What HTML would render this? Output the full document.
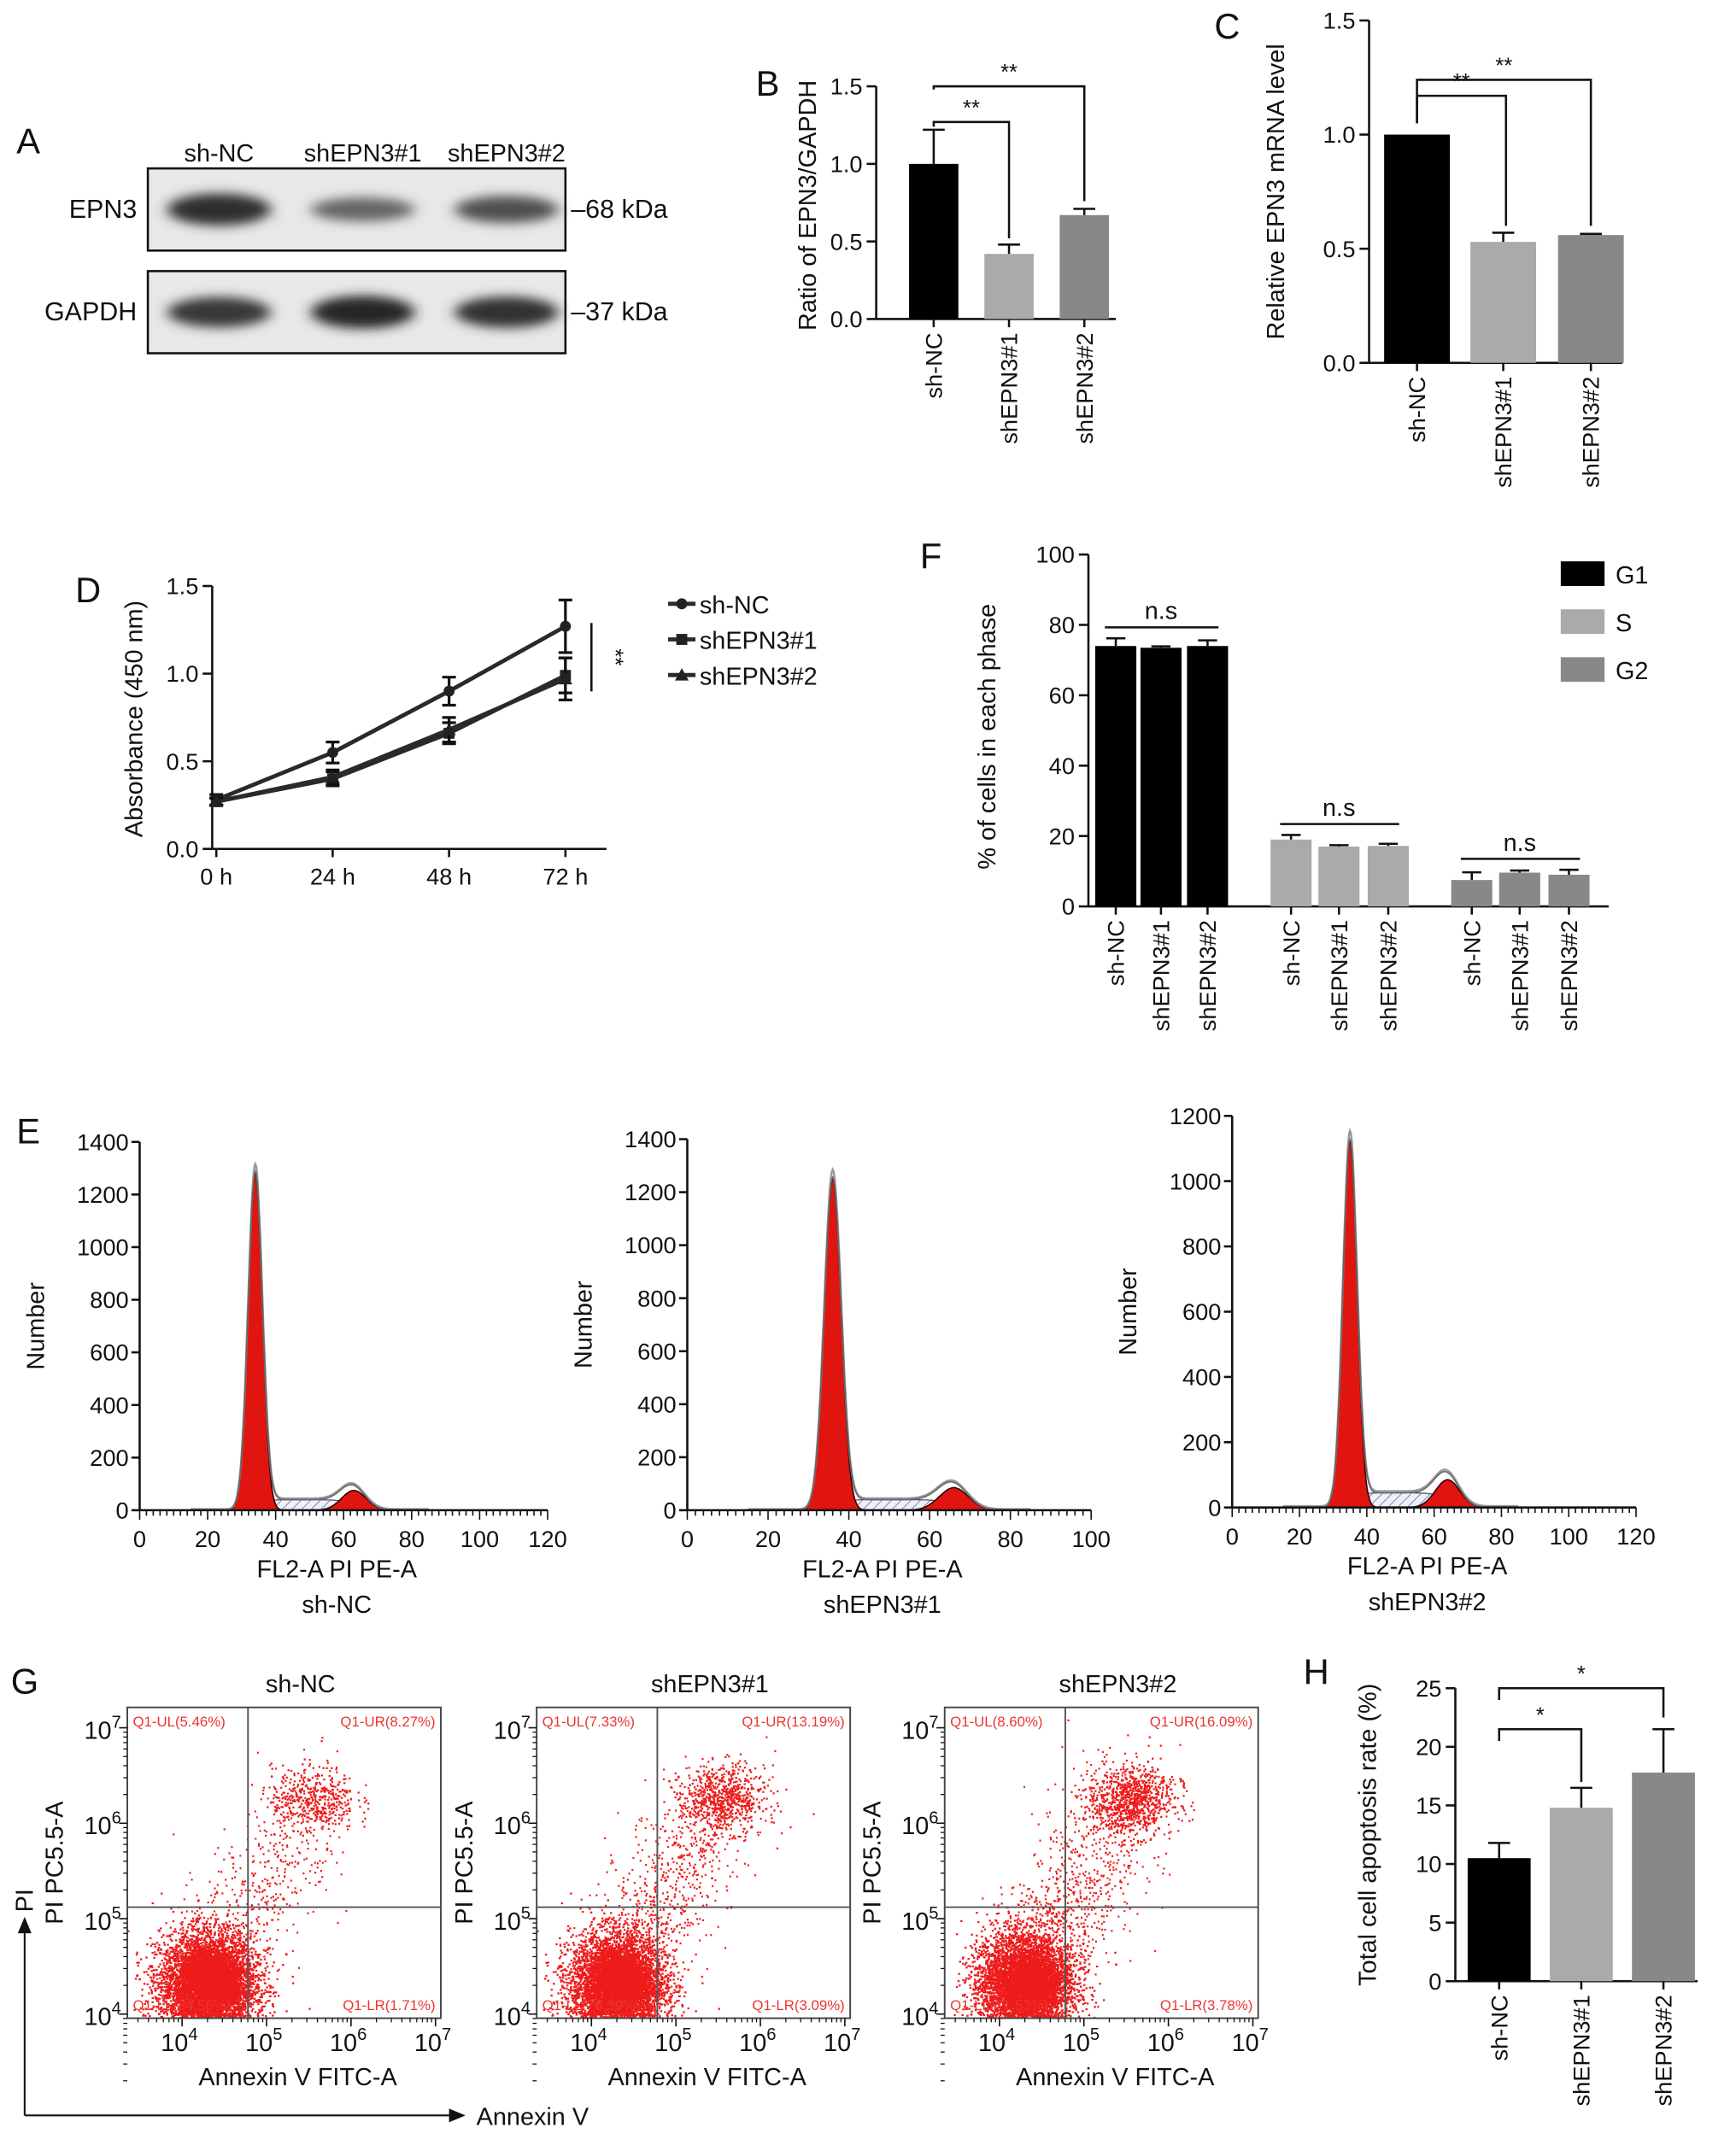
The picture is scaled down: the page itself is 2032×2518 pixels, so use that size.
<!DOCTYPE html>
<html><head><meta charset="utf-8">
<style>
html,body{margin:0;padding:0;background:#fff;}
svg{display:block;font-family:"Liberation Sans",Arial,sans-serif;}
</style></head>
<body>
<svg id="fig" width="2032" height="2518" viewBox="0 0 1268 1571" preserveAspectRatio="none" xmlns="http://www.w3.org/2000/svg">
<defs>
<filter id="blur" x="-50%" y="-100%" width="200%" height="300%"><feGaussianBlur stdDeviation="5 4"/></filter>
<pattern id="hatch" width="5" height="5" patternUnits="userSpaceOnUse" patternTransform="rotate(45)">
<rect width="5" height="5" fill="#eef0fa"/><line x1="0" y1="0" x2="0" y2="5" stroke="#6670a0" stroke-width="1"/></pattern>
</defs>
</svg>
<script>
// ---------- data ----------
const blotLanes=["sh-NC","shEPN3#1","shEPN3#2"];
const epn3Band=[0.95,0.45,0.65];
const gapdhBand=[0.85,1.0,0.9];
const bCats=["sh-NC","shEPN3#1","shEPN3#2"];
const bVals=[1.0,0.42,0.67];
const bErr=[0.22,0.06,0.04];
const cCats=["sh-NC","shEPN3#1","shEPN3#2"];
const cVals=[1.0,0.53,0.56];
const cErr=[0.0,0.04,0.005];
const dTimes=["0 h","24 h","48 h","72 h"];
const dNC=[0.28,0.55,0.90,1.27];
const dNCerr=[0.03,0.06,0.08,0.15];
const d1=[0.27,0.40,0.66,0.99];
const d1err=[0.02,0.04,0.06,0.10];
const d2=[0.27,0.41,0.68,0.97];
const d2err=[0.02,0.04,0.07,0.12];
const fPhases=["G1","S","G2"];
const fG1=[74,73.5,74];
const fG1err=[2.2,0.4,1.6];
const fS=[19,17,17.2];
const fSerr=[1.3,0.4,0.6];
const fG2=[7.5,9.6,9];
const fG2err=[2.2,0.6,1.4];
const hVals=[10.5,14.8,17.8];
const hErr=[1.3,1.7,3.7];
const histTitles=["sh-NC","shEPN3#1","shEPN3#2"];
const histG1Mu=[34,36,35];
const histG1H=[1280,1250,1120];
const histG2Mu=[63,66,64];
const histG2H=[75,85,85];
const histSLevel=[40,40,45];
const histYMax=[1400,1400,1200];
const histXMax=[120,100,120];
const scatTitles=["sh-NC","shEPN3#1","shEPN3#2"];
const qUL=[5.46,7.33,8.60];
const qUR=[8.27,13.19,16.09];
const qLL=[84.56,76.39,71.53];
const qLR=[1.71,3.09,3.78];

// ---------- helpers ----------
const svg=document.getElementById('fig');
const NS="http://www.w3.org/2000/svg";
function nm(el,name,inter){
  
  
  return el;
}
function mk(tag,attrs,name,parent){
  const e=document.createElementNS(NS,tag);
  for(const k in attrs) e.setAttribute(k,attrs[k]);
  nm(e,name||tag);
  (parent||svg).appendChild(e);
  return e;
}
function txt(x,y,s,name,o){
  o=o||{};
  const a={x:x,y:y,'font-size':o.size||18,'text-anchor':o.anchor||'middle',fill:o.fill||'#111'};
  if(o.rot!==undefined) a.transform=`rotate(${o.rot} ${x} ${y})`;
  const t=mk('text',a,name,o.parent);
  t.textContent=s;
  return t;
}
function line(x1,y1,x2,y2,name,o){
  o=o||{};
  return mk('line',{x1,y1,x2,y2,stroke:o.stroke||'#111','stroke-width':o.w||1.6},name,o.parent);
}
function supTxt(x,y,base,exp,name,size){
  const t=mk('text',{x:x,y:y,'font-size':size||18,'text-anchor':'middle',fill:'#111'},name);
  const s1=document.createElementNS(NS,'tspan');s1.textContent=base;t.appendChild(s1);
  const s2=document.createElementNS(NS,'tspan');s2.setAttribute('dy','-8');s2.setAttribute('font-size',(size||18)*0.7);s2.textContent=exp;t.appendChild(s2);
  return t;
}
function bracket(x1,x2,ytop,yl,yr,star,name){
  mk('polyline',{points:`${x1},${yl} ${x1},${ytop} ${x2},${ytop} ${x2},${yr}`,fill:'none',stroke:'#111','stroke-width':1.6},name);
  txt((x1+x2)/2,ytop-5,star,name+'-label',{size:16});
}
function panelLabel(x,y,s){txt(x,y,s,'panel-label-'+s.toLowerCase(),{size:26,anchor:'start'});}
function barChart(cfg){
  const {ax,y0,ppu,x1,ticks,cats,vals,errs,centers,bw,colors,prefix}=cfg;
  const ys=v=>y0-v*ppu;
  line(ax,ys(ticks[ticks.length-1]),ax,y0,prefix+'-y-axis');
  line(ax,y0,x1,y0,prefix+'-x-axis');
  ticks.forEach(t=>{
    line(ax-7,ys(t),ax,ys(t),prefix+'-y-tick');
    txt(ax-10,ys(t)+6,cfg.fmt(t),prefix+'-y-tick-label',{size:17,anchor:'end'});
  });
  vals.forEach((v,i)=>{
    const cx=centers[i];
    mk('rect',{x:cx-bw/2,y:ys(v),width:bw,height:y0-ys(v),fill:colors[i]},prefix+'-bar-'+i);
    if(errs[i]>0){
      line(cx,ys(v),cx,ys(v+errs[i]),prefix+'-error-bar');
      line(cx-8,ys(v+errs[i]),cx+8,ys(v+errs[i]),prefix+'-error-cap');
    }
    line(cx,y0,cx,y0+6,prefix+'-x-tick');
    txt(cx+6,y0+10,cats[i],prefix+'-x-label',{size:17,anchor:'end',rot:-90});
  });
  return ys;
}

// ---------- Panel A ----------
panelLabel(12,112,'A');
const laneX=[160,265,370];
blotLanes.forEach((l,i)=>txt(laneX[i],118,l,'blot-lane-label',{size:18}));
[[123,epn3Band,'epn3'],[198,gapdhBand,'gapdh']].forEach(([by,arr,nmx])=>{
  mk('rect',{x:108,y:by,width:305,height:60,fill:'#e8e8e8',stroke:'#111','stroke-width':1.6},nmx+'-blot');
  arr.forEach((v,i)=>{
    const g=Math.round(40+(1-v)*110);
    mk('ellipse',{cx:laneX[i],cy:by+30,rx:38,ry:6+6*v,fill:`rgb(${g},${g},${g})`,filter:'url(#blur)'},nmx+'-band');
  });
});
txt(100,159,'EPN3','epn3-row-label',{size:19,anchor:'end'});
txt(100,234,'GAPDH','gapdh-row-label',{size:19,anchor:'end'});
txt(417,159,'–68 kDa','epn3-kda-label',{size:19,anchor:'start'});
txt(417,234,'–37 kDa','gapdh-kda-label',{size:19,anchor:'start'});

// ---------- Panel B ----------
panelLabel(552,70,'B');
const ysB=barChart({ax:640,y0:233,ppu:113.3,x1:815,ticks:[0,0.5,1,1.5],cats:bCats,vals:bVals,errs:bErr,
  centers:[682,737,792],bw:36,colors:['#000','#aaa','#888'],prefix:'b',fmt:t=>t.toFixed(1)});
txt(596,150,'Ratio of EPN3/GAPDH','b-y-axis-title',{size:18,rot:-90});
bracket(682,737,ysB(1.27),ysB(1.24),ysB(0.52),'**','b-sig-bracket-1');
bracket(682,792,ysB(1.5),ysB(1.48),ysB(0.76),'**','b-sig-bracket-2');

// ---------- Panel C ----------
panelLabel(887,28,'C');
const ysC=barChart({ax:1000,y0:265,ppu:166.7,x1:1185,ticks:[0,0.5,1,1.5],cats:cCats,vals:cVals,errs:cErr,
  centers:[1035,1098,1162],bw:48,colors:['#000','#aaa','#888'],prefix:'c',fmt:t=>t.toFixed(1)});
txt(938,140,'Relative EPN3 mRNA level','c-y-axis-title',{size:18,rot:-90});
bracket(1035,1100,ysC(1.17),ysC(1.05),ysC(0.6),'**','c-sig-bracket-1');
bracket(1035,1162,ysC(1.24),ysC(1.05),ysC(0.6),'**','c-sig-bracket-2');

// ---------- Panel D ----------
panelLabel(55,440,'D');
(function(){
  const ax=155,y0=620,ppu=128;
  const ys=v=>y0-v*ppu;
  const xs=i=>158+i*85;
  line(ax,ys(1.5),ax,y0,'d-y-axis');
  line(ax,y0,443,y0,'d-x-axis');
  [0,0.5,1,1.5].forEach(t=>{line(ax-7,ys(t),ax,ys(t),'d-y-tick');txt(ax-10,ys(t)+6,t.toFixed(1),'d-y-tick-label',{size:17,anchor:'end'});});
  dTimes.forEach((t,i)=>{line(xs(i),y0,xs(i),y0+6,'d-x-tick');txt(xs(i),y0+26,t,'d-x-tick-label',{size:17});});
  txt(104,525,'Absorbance (450 nm)','d-y-axis-title',{size:18,rot:-90});
  const series=[[dNC,dNCerr,'circle','sh-NC'],[d1,d1err,'square','shEPN3#1'],[d2,d2err,'triangle','shEPN3#2']];
  function marker(x,y,shape,name){
    if(shape==='circle') mk('circle',{cx:x,cy:y,r:4,fill:'#222'},name);
    else if(shape==='square') mk('rect',{x:x-4,y:y-4,width:8,height:8,fill:'#222'},name);
    else mk('polygon',{points:`${x},${y-5} ${x-5},${y+4} ${x+5},${y+4}`,fill:'#222'},name);
  }
  series.forEach(([vals,errs,shape,label],si)=>{
    mk('polyline',{points:vals.map((v,i)=>xs(i)+','+ys(v)).join(' '),fill:'none',stroke:'#2a2a2a','stroke-width':3},'d-line-'+label);
    vals.forEach((v,i)=>{
      line(xs(i),ys(v-errs[i]),xs(i),ys(v+errs[i]),'d-error-bar',{w:2});
      line(xs(i)-5,ys(v+errs[i]),xs(i)+5,ys(v+errs[i]),'d-error-cap',{w:2});
      line(xs(i)-5,ys(v-errs[i]),xs(i)+5,ys(v-errs[i]),'d-error-cap',{w:2});
      marker(xs(i),ys(v),shape,'d-point-'+label);
    });
    const ly=441+si*26;
    line(488,ly,508,ly,'d-legend-line',{w:3,stroke:'#2a2a2a'});
    marker(498,ly,shape,'d-legend-marker');
    txt(511,ly+7,label,'d-legend-label',{size:18,anchor:'start'});
  });
  line(432,455,432,505,'d-sig-line');
  txt(444,480,'**','d-sig-label',{size:16,rot:90});
})();

// ---------- Panel F ----------
panelLabel(672,415,'F');
(function(){
  const ax=795,y0=662,ppu=2.57;
  const ys=v=>y0-v*ppu;
  line(ax,ys(100),ax,y0,'f-y-axis');
  line(ax,y0,1175,y0,'f-x-axis');
  [0,20,40,60,80,100].forEach(t=>{line(ax-7,ys(t),ax,ys(t),'f-y-tick');txt(ax-10,ys(t)+6,String(t),'f-y-tick-label',{size:17,anchor:'end'});});
  txt(727,538,'% of cells in each phase','f-y-axis-title',{size:18,rot:-90});
  const groups=[[fG1,fG1err,[815,848,882],'#000'],[fS,fSerr,[943,978,1014],'#aaa'],[fG2,fG2err,[1075,1110,1146],'#888']];
  const cats=["sh-NC","shEPN3#1","shEPN3#2"];
  groups.forEach(([vals,errs,cs,col],gi)=>{
    vals.forEach((v,i)=>{
      mk('rect',{x:cs[i]-15,y:ys(v),width:30,height:y0-ys(v),fill:col},'f-bar-'+fPhases[gi]+'-'+i);
      line(cs[i],ys(v),cs[i],ys(v+errs[i]),'f-error-bar');
      line(cs[i]-7,ys(v+errs[i]),cs[i]+7,ys(v+errs[i]),'f-error-cap');
      line(cs[i],y0,cs[i],y0+6,'f-x-tick');
      txt(cs[i]+6,y0+10,cats[i],'f-x-label',{size:17,anchor:'end',rot:-90});
    });
    const top=Math.max(...vals.map((v,i)=>v+errs[i]));
    const ly=ys(top)-8;
    line(cs[0]-8,ly,cs[2]+8,ly,'f-ns-line');
    txt(cs[1],ly-6,'n.s','f-ns-label',{size:18});
    const sy=410+gi*35;
    mk('rect',{x:1140,y:sy,width:32,height:18,fill:col},'f-legend-swatch-'+fPhases[gi]);
    txt(1180,sy+16,fPhases[gi],'f-legend-label',{size:18,anchor:'start'});
  });
})();

// ---------- Panel E ----------
panelLabel(12,835,'E');
const histAx=[[102,400,1103,834],[502,797,1103,832],[900,1195,1101,815]];
histTitles.forEach((title,hi)=>{
  const [x0,x1,y0,yt]=histAx[hi];
  const xmax=histXMax[hi],ymax=histYMax[hi];
  const xs=v=>x0+v*(x1-x0)/xmax;
  const ys=v=>y0-v*(y0-yt)/ymax;
  const mu1=histG1Mu[hi],h1=histG1H[hi],mu2=histG2Mu[hi],h2=histG2H[hi],sl=histSLevel[hi];
  const g=(x,m,s,h)=>h*Math.exp(-0.5*((x-m)/s)**2);
  const sg=z=>1/(1+Math.exp(-z));
  const sPh=x=>sl*sg((x-mu1-2)/1.2)*sg((mu2-x)/2);
  const pts=[];for(let x=15;x<=85;x+=0.25)pts.push(x);
  const path=(f)=>'M'+pts.map(x=>xs(x).toFixed(1)+','+ys(f(x)).toFixed(1)).join(' L')+' Z';
  mk('path',{d:path(x=>sPh(x)),fill:'url(#hatch)',stroke:'#555','stroke-width':0.8},'e-s-phase-'+hi);
  mk('path',{d:path(x=>g(x,mu1,2.1,h1)),fill:'#e0150f',stroke:'#300','stroke-width':1},'e-g1-peak-'+hi);
  mk('path',{d:path(x=>g(x,mu2,3.6,h2)),fill:'#e0150f',stroke:'#300','stroke-width':1},'e-g2-peak-'+hi);
  const tot=x=>g(x,mu1,2.1,h1)+g(x,mu2,3.6,h2)+sPh(x);
  mk('path',{d:'M'+pts.map(x=>xs(x).toFixed(1)+','+ys(tot(x)*1.02+4).toFixed(1)).join(' L'),fill:'none',stroke:'#999','stroke-width':1.5},'e-fit-curve-'+hi);
  mk('path',{d:'M'+pts.map(x=>xs(x).toFixed(1)+','+ys(tot(x)).toFixed(1)).join(' L'),fill:'none',stroke:'#666','stroke-width':1},'e-total-curve-'+hi);
  line(x0,yt,x0,y0,'e-y-axis');
  line(x0,y0,x1,y0,'e-x-axis');
  for(let t=0;t<=ymax;t+=200){line(x0-6,ys(t),x0,ys(t),'e-y-tick');txt(x0-8,ys(t)+6,String(t),'e-y-tick-label',{size:17,anchor:'end'});}
  for(let t=0;t<=xmax;t+=2){line(xs(t),y0,xs(t),y0+(t%20===0?7:4),'e-x-tick',{w:1});}
  for(let t=0;t<=xmax;t+=20){txt(xs(t),y0+27,String(t),'e-x-tick-label',{size:17});}
  txt(x0-70,(y0+yt)/2,'Number','e-y-axis-title',{size:18,rot:-90});
  txt((x0+x1)/2-5,y0+49,'FL2-A PI PE-A','e-x-axis-title',{size:18});
  txt((x0+x1)/2-5,y0+75,title,'e-sample-title',{size:18});
});

// ---------- Panel G ----------
panelLabel(8,1237,'G');
let seed=12345;
function rnd(){seed=(seed*1103515245+12345)%2147483648;return seed/2147483648;}
function gauss(){return Math.sqrt(-2*Math.log(rnd()+1e-9))*Math.cos(2*Math.PI*rnd());}
const gBox=[93,392,690];
scatTitles.forEach((title,gi)=>{
  const bx=gBox[gi],bw=229,by=1247,bh=227;
  const xs=l=>bx+40+(l-4)*61.7;
  const ys=l=>1471-(l-4)*69.7;
  const clip=mk('clipPath',{id:'gclip'+gi},'g-clip');
  mk('rect',{x:bx,y:by,width:bw,height:bh},'g-clip-rect',clip);
  const grp=mk('g',{'clip-path':`url(#gclip${gi})`},'g-scatter-points-'+gi);
  let d='';
  const nLL=6000,nUR=Math.round(qUR[gi]*55),nMid=Math.round((qUL[gi]+qLR[gi])*70);
  for(let i=0;i<nLL;i++){const lx=4.3+gauss()*0.28,ly=4.3+gauss()*0.27;d+=`M${xs(lx).toFixed(1)},${ys(ly).toFixed(1)}h1.5`;}
  for(let i=0;i<1500;i++){const lx=4.35+gauss()*0.15,ly=4.3+gauss()*0.14;d+=`M${xs(lx).toFixed(1)},${ys(ly).toFixed(1)}h1.5`;}
  for(let i=0;i<nUR;i++){const lx=5.55+gauss()*0.25,ly=6.25+gauss()*0.17;d+=`M${xs(lx).toFixed(1)},${ys(ly).toFixed(1)}h1.4`;}
  for(let i=0;i<nMid;i++){const t=rnd();const lx=4.3+t*1.2+gauss()*0.3,ly=4.4+t*1.8+gauss()*0.35;d+=`M${xs(lx).toFixed(1)},${ys(ly).toFixed(1)}h1.3`;}
  mk('path',{d:d,stroke:'#ee1b1b','stroke-width':1.4,fill:'none'},'g-dots',grp);
  mk('rect',{x:bx,y:by,width:bw,height:bh,fill:'none',stroke:'#444','stroke-width':1.2},'g-plot-frame');
  const qx=xs(4.78),qy=ys(5.12);
  line(qx,by,qx,by+bh,'g-quadrant-v',{stroke:'#555',w:1.2});
  line(bx,qy,bx+bw,qy,'g-quadrant-h',{stroke:'#555',w:1.2});
  txt(bx+4,by+14,`Q1-UL(${qUL[gi].toFixed(2)}%)`,'g-quadrant-ul',{size:10.5,anchor:'start',fill:'#e33'});
  txt(bx+bw-4,by+14,`Q1-UR(${qUR[gi].toFixed(2)}%)`,'g-quadrant-ur',{size:10.5,anchor:'end',fill:'#e33'});
  txt(bx+4,by+bh-6,`Q1-LL(${qLL[gi].toFixed(2)}%)`,'g-quadrant-ll',{size:10.5,anchor:'start',fill:'#e33'});
  txt(bx+bw-4,by+bh-6,`Q1-LR(${qLR[gi].toFixed(2)}%)`,'g-quadrant-lr',{size:10.5,anchor:'end',fill:'#e33'});
  [4,5,6,7].forEach(e=>{
    supTxt(xs(e)-2,by+bh+24,'10',String(e),'g-x-tick-label',18);
    supTxt(bx-18,ys(e)+8,'10',String(e),'g-y-tick-label',18);
    line(xs(e),by+bh,xs(e),by+bh+6,'g-x-tick',{w:1});
    line(bx-6,ys(e),bx,ys(e),'g-y-tick',{w:1});
  });
  for(let e=3;e<7;e++)for(let k=2;k<10;k++){
    const l=e+Math.log10(k);
    if(xs(l)>bx) line(xs(l),by+bh,xs(l),by+bh+3,'g-x-minor-tick',{w:0.8});
    if(ys(l)>by) line(bx-3,ys(l),bx,ys(l),'g-y-minor-tick',{w:0.8});
  }
  txt(bx+bw/2+12,1236,title,'g-plot-title',{size:18});
  txt(bx+bw/2+10,1523,'Annexin V FITC-A','g-x-axis-title',{size:18});
  txt(bx-47,by+bh/2,'PI PC5.5-A','g-y-axis-title',{size:18,rot:-90});
});
line(18,1545,335,1545,'g-annexin-arrow-line',{w:1.3});
mk('polygon',{points:'340,1545 328,1540 328,1550',fill:'#111'},'g-annexin-arrowhead');
txt(348,1552,'Annexin V','g-annexin-label',{size:18,anchor:'start'});
line(18,1545,18,1405,'g-pi-arrow-line',{w:1.3});
mk('polygon',{points:'18,1400 13,1412 23,1412',fill:'#111'},'g-pi-arrowhead');
txt(24,1388,'PI','g-pi-label',{size:18,rot:-90});

// ---------- Panel H ----------
panelLabel(952,1230,'H');
const ysH=barChart({ax:1063,y0:1447,ppu:8.56,x1:1240,ticks:[0,5,10,15,20,25],cats:["sh-NC","shEPN3#1","shEPN3#2"],vals:hVals,errs:hErr,
  centers:[1095,1155,1215],bw:46,colors:['#000','#aaa','#888'],prefix:'h',fmt:t=>String(t)});
txt(1005,1340,'Total cell apoptosis rate (%)','h-y-axis-title',{size:18,rot:-90});
bracket(1095,1155,ysH(21.5),ysH(20.5),ysH(17),'*','h-sig-bracket-1');
bracket(1095,1215,ysH(25),ysH(24),ysH(22.5),'*','h-sig-bracket-2');
</script>
</body></html>
